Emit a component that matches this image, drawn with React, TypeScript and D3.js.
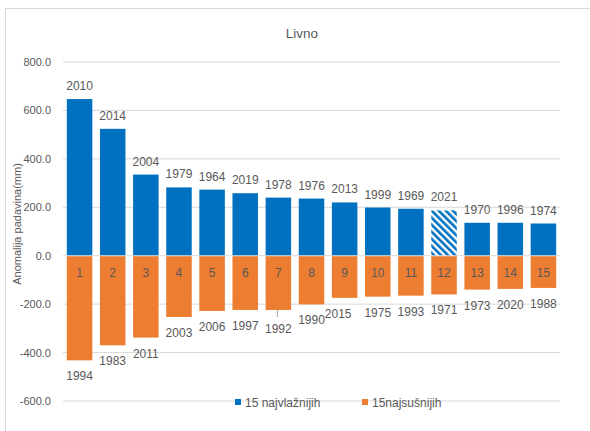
import React from "react";
import * as d3 from "d3";

const categories = ["1","2","3","4","5","6","7","8","9","10","11","12","13","14","15"];
const wetValues = [647, 524, 335, 282, 273, 258, 240, 236, 220, 199, 194, 187, 136, 136, 133];
const wetYears = ["2010","2014","2004","1979","1964","2019","1978","1976","2013","1999","1969","2021","1970","1996","1974"];
const dryValues = [-432, -370, -338, -253, -228, -224, -224, -201, -174, -169, -165, -160, -140, -137, -133];
const dryYears = ["1994","1983","2011","2003","2006","1997","1992","1990","2015","1975","1993","1971","1973","2020","1988"];
const yTicks = [-600, -400, -200, 0, 200, 400, 600, 800];
const hatchedYear = "2021";
const title = "Livno";
const yTitle = "Anomalija padavina(mm)";
const legendLabels = ["15 najvlažnijih", "15najsušnijih"];

const W = 590, H = 431;
const BLUE = "#0070C0";
const ORANGE = "#ED7D31";
const TXT = "#595959";
const FONT = "'Liberation Sans', Arial, sans-serif";

export default function App() {
  const x = d3.scaleBand<string>().domain(categories).range([63, 560]).paddingInner(0.23).paddingOuter(0.115);
  const y = d3.scaleLinear().domain([-600, 800]).range([401, 62]);
  const bw = x.bandwidth();
  const y0 = y(0);

  // label nudges by index (Excel collision adjustments)
  const dryDx: Record<number, number> = { 8: -6.5 };
  const dryDy: Record<number, number> = { 6: 3 };

  return (
    <svg width={W} height={H} style={{ position: "absolute", left: 0, top: 0, background: "#fff" }} fontFamily={FONT}>
      <defs>
        <pattern id="hatch" patternUnits="userSpaceOnUse" width="5" height="5" patternTransform="rotate(-45)">
          <rect x="0" y="0" width="5" height="5" fill="#fff" />
          <rect x="0" y="0" width="2.6" height="5" fill={BLUE} />
        </pattern>
      </defs>
      <rect x={5.5} y={8.5} width={W + 10} height={H + 10} fill="#fff" stroke="#d9d9d9" strokeWidth={1} />
      <text x={302} y={38} textAnchor="middle" fontSize={13.5} fill={TXT}>{title}</text>

      {yTicks.map((t) => (
        <g key={t}>
          <line x1={63} x2={560} y1={y(t)} y2={y(t)} stroke="#d9d9d9" strokeWidth={1} />
          <text x={51} y={y(t) + 4} textAnchor="end" fontSize={11} fill={TXT}>{t.toFixed(1)}</text>
        </g>
      ))}

      <text transform={`translate(21,224) rotate(-90)`} textAnchor="middle" fontSize={11} fill={TXT}>{yTitle}</text>

      {categories.map((c, i) => {
        const xb = x(c)!;
        const cx = xb + bw / 2;
        const wy = y(wetValues[i]);
        const dy = y(dryValues[i]);
        const hatched = wetYears[i] === hatchedYear;
        return (
          <g key={c}>
            <rect x={xb} y={wy} width={bw} height={y0 - 0.5 - wy} fill={hatched ? "url(#hatch)" : BLUE} />
            <rect x={xb} y={y0 + 0.5} width={bw} height={dy - y0 - 0.5} fill={ORANGE} />
            <text x={cx} y={wy - 9} textAnchor="middle" fontSize={12} fill={TXT}>{wetYears[i]}</text>
            <text x={cx} y={y0 + 21} textAnchor="middle" fontSize={12} fill={TXT}>{c}</text>
            <text x={cx + (dryDx[i] || 0)} y={dy + 20 + (dryDy[i] || 0)} textAnchor="middle" fontSize={12} fill={TXT}>{dryYears[i]}</text>
            {dryDy[i] ? <line x1={cx - 1} x2={cx - 1} y1={dy} y2={dy + 7} stroke="#a6a6a6" strokeWidth={1} /> : null}
          </g>
        );
      })}

      <g>
        <rect x={235} y={399} width={6} height={6} fill={BLUE} />
        <text x={245} y={406.5} fontSize={12} fill={TXT}>{legendLabels[0]}</text>
        <rect x={362} y={399} width={6} height={6} fill={ORANGE} />
        <text x={372} y={406.5} fontSize={12} fill={TXT}>{legendLabels[1]}</text>
      </g>
    </svg>
  );
}
